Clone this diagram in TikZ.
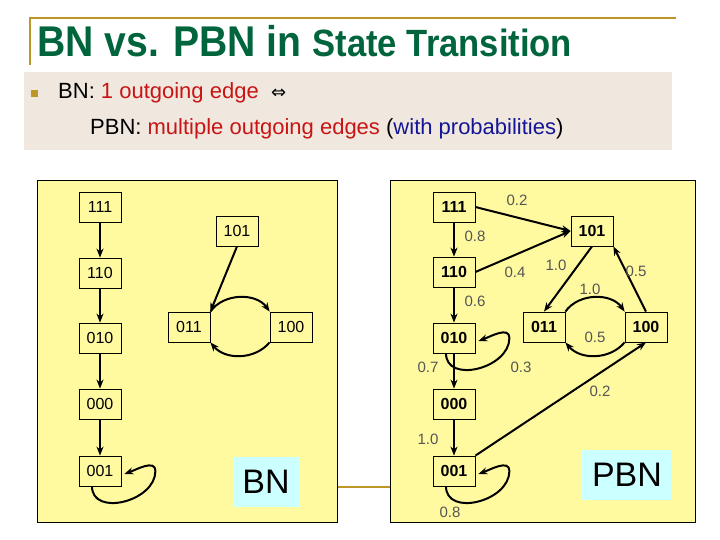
\documentclass[tikz,border=0pt]{standalone}
\usepackage{fontspec}
\setmainfont{Liberation Sans}
\newfontfamily\djv{DejaVu Sans}
\usetikzlibrary{arrows.meta}
\definecolor{ttl}{RGB}{0,100,60}
\definecolor{rulec}{RGB}{190,150,40}
\definecolor{panel}{RGB}{255,250,160}
\definecolor{bulbg}{RGB}{240,232,222}
\definecolor{cyanbg}{RGB}{204,255,255}
\definecolor{lbl}{RGB}{85,85,85}
\definecolor{redt}{RGB}{200,20,20}
\definecolor{bluet}{RGB}{20,20,150}
\begin{document}
\begin{tikzpicture}[x=1pt,y=-1pt,
  st/.style={draw,line width=0.8pt,minimum width=42pt,minimum height=30pt,inner sep=0pt,font=\fontsize{16}{18}\selectfont},
  stb/.style={st,font=\fontsize{16}{18}\selectfont\bfseries},
  arr/.style={line width=2pt,-{Stealth[length=9pt,width=7pt]}},
  pl/.style={font=\fontsize{15}{17}\selectfont,text=lbl,inner sep=1pt},
  loopy/.style={arr}]
\useasboundingbox (0,0) rectangle (720,540);
% title
\draw[rulec,line width=1.5pt] (30,65) -- (30,18) -- (676,18);
\node[anchor=west,text=ttl,inner sep=0pt] (title) at (37,41) {\scalebox{0.91}[1]{\fontsize{43}{46}\selectfont\bfseries BN vs. PBN in \fontsize{38}{40}\selectfont State Transition}};
% bullet box
\node[fill=bulbg,minimum width=648pt,minimum height=78pt,anchor=north west,inner sep=0pt] (bbox) at (24,72) {};
\node[fill=rulec,minimum size=7pt,inner sep=0pt] (bul) at (34,94) {};
\node[anchor=west,inner sep=0pt,font=\fontsize{22}{24}\selectfont] (l1) at (58,93) {BN: \textcolor{redt}{1 outgoing edge}~~{\djv\fontsize{18}{20}\selectfont ⇔}};
\node[anchor=west,inner sep=0pt,font=\fontsize{22}{24}\selectfont] (l2) at (90,129) {PBN: \textcolor{redt}{multiple outgoing edges} (\textcolor{bluet}{with probabilities})};
% panels
\node[draw,fill=panel,line width=0.8pt,anchor=north west,minimum width=300pt,minimum height=342pt,inner sep=0pt] (pa) at (37,180) {};
\node[draw,fill=panel,line width=0.8pt,anchor=north west,minimum width=305pt,minimum height=342pt,inner sep=0pt] (pb) at (390,180) {};
\draw[rulec,line width=2pt] (pa.east |- 0,487) -- (pb.west |- 0,487);
% BN
\node[st] (a111) at (100,207) {111};
\node[st] (a110) at (100,273) {110};
\node[st] (a010) at (100,338) {010};
\node[st] (a000) at (100,404) {000};
\node[st] (a001) at (100,471) {001};
\node[st] (a101) at (237,231) {101};
\node[st] (a011) at (189,327) {011};
\node[st] (a100) at (291,327) {100};
\node[fill=cyanbg,minimum width=65pt,minimum height=50pt,inner sep=0pt,font=\fontsize{34}{36}\selectfont] (bn) at (266,482) {BN};
\draw[arr] (a111) -- (a110);
\draw[arr] (a110) -- (a010);
\draw[arr] (a010) -- (a000);
\draw[arr] (a000) -- (a001);
\draw[arr] (a101.south) -- (a011.north east);
\draw[arr] (a011.north east) to[out=55,in=125] (a100.north west);
\draw[arr] (a100.south west) to[out=-130,in=-50] (a011.south east);
\draw[loopy] ([xshift=-8pt]a001.south) to[out=-90,in=-90,looseness=1.2] ([xshift=34pt]a001.east) to[out=90,in=20] ([xshift=3pt,yshift=-3pt]a001.east);
% PBN
\node[stb] (b111) at (454,207) {111};
\node[stb] (b110) at (454,272) {110};
\node[stb] (b010) at (454,338) {010};
\node[stb] (b000) at (454,404) {000};
\node[stb] (b001) at (454,471) {001};
\node[stb] (b101) at (592,231) {101};
\node[stb] (b011) at (544,327) {011};
\node[stb] (b100) at (646,327) {100};
\node[fill=cyanbg,minimum width=90pt,minimum height=50pt,inner sep=0pt,font=\fontsize{34}{36}\selectfont] (pbn) at (627,475) {PBN};
\draw[arr] (b111.east) -- (b101.west);
\draw[arr] (b111) -- (b110);
\draw[arr] (b110.east) -- (b101.west);
\draw[arr] (b110) -- (b010);
\draw[arr] (b101.south) -- (b011.north);
\draw[arr] (b100.north) -- (b101.south east);
\draw[arr] (b011.north east) to[out=55,in=125] (b100.north west);
\draw[arr] (b100.south west) to[out=-130,in=-50] (b011.south east);
\draw[arr] (b010) -- (b000);
\draw[arr] (b000) -- (b001);
\draw[arr] (b001.north east) -- (b100.south);
\draw[loopy] ([xshift=-8pt]b010.south) to[out=-90,in=-90,looseness=1.2] ([xshift=34pt]b010.east) to[out=90,in=20] ([xshift=3pt,yshift=-3pt]b010.east);
\draw[loopy] ([xshift=-8pt]b001.south) to[out=-90,in=-90,looseness=1.2] ([xshift=34pt]b001.east) to[out=90,in=20] ([xshift=3pt,yshift=-3pt]b001.east);
\node[pl] (p1) at (517,200) {0.2};
\node[pl] (p2) at (475,236) {0.8};
\node[pl] (p3) at (515,272) {0.4};
\node[pl] (p4) at (556,265) {1.0};
\node[pl] (p5) at (636,271) {0.5};
\node[pl] (p6) at (590,289) {1.0};
\node[pl] (p7) at (475,301) {0.6};
\node[pl] (p8) at (595,337) {0.5};
\node[pl] (p9) at (428,367) {0.7};
\node[pl] (p10) at (521,367) {0.3};
\node[pl] (p11) at (600,391) {0.2};
\node[pl] (p12) at (428,439) {1.0};
\node[pl] (p13) at (450,512) {0.8};
\end{tikzpicture}
\end{document}
